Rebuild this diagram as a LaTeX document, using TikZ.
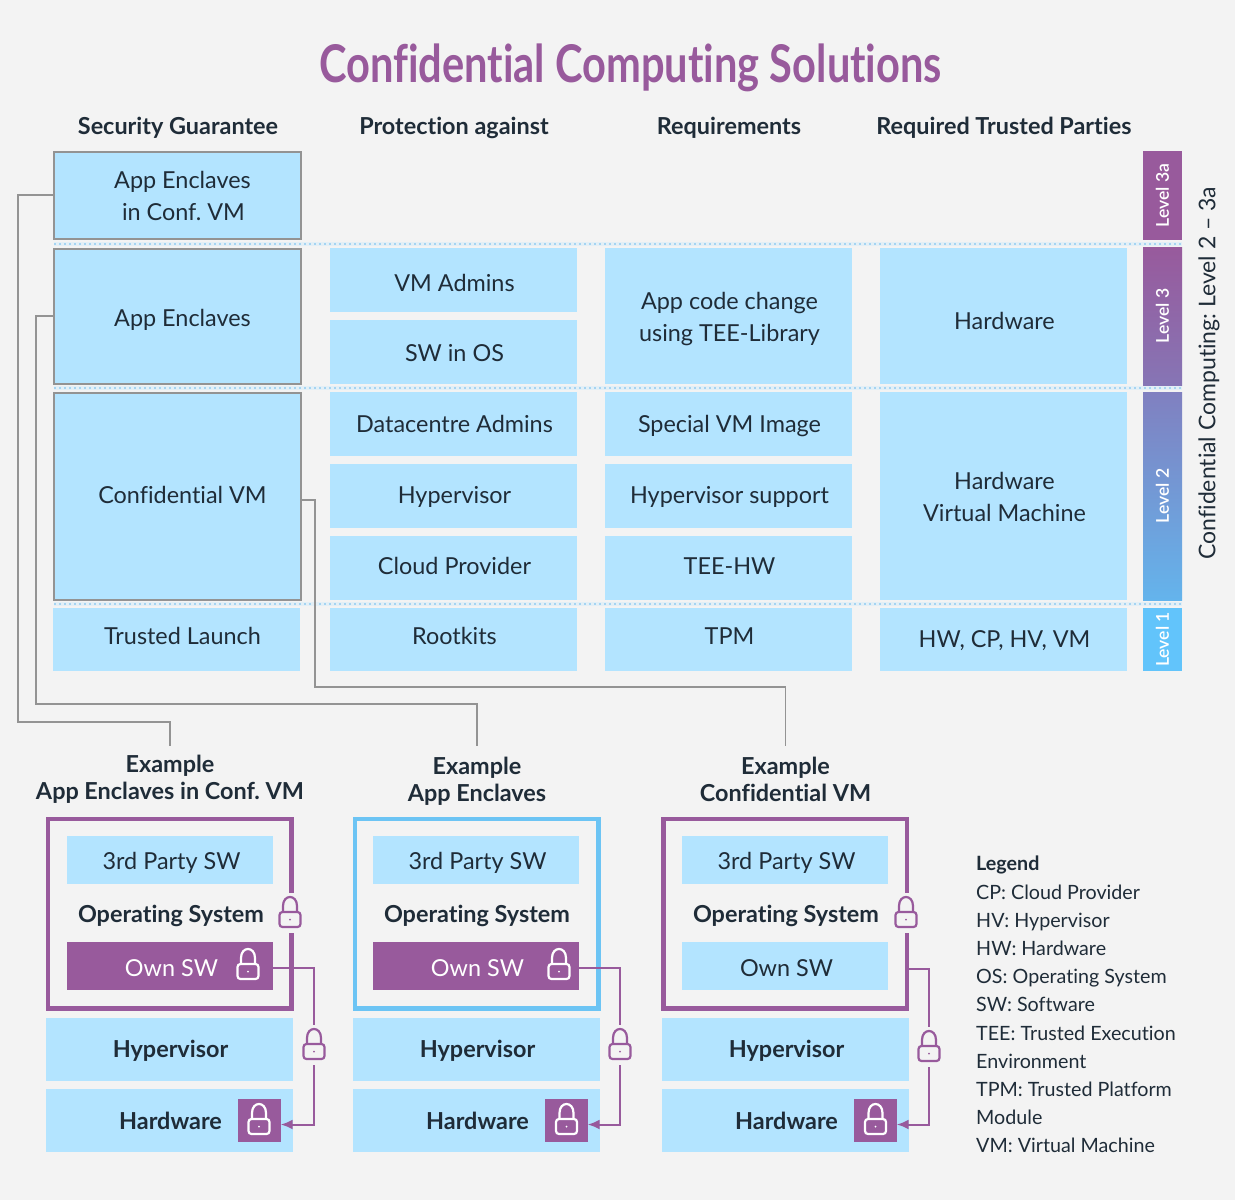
\documentclass[tikz,border=0pt]{standalone}
\usepackage{fontspec}
\setmainfont{Lato}[Ligatures=NoCommon]
\newfontfamily\latosemi{Lato Semibold}
\frenchspacing
\usetikzlibrary{calc,arrows.meta,positioning}
\definecolor{pagebg}{HTML}{F3F3F3}
\definecolor{boxblue}{HTML}{B3E4FF}
\definecolor{ccpurple}{HTML}{985A9C}
\definecolor{ccblue}{HTML}{62C4FB}
\definecolor{lvlthreebot}{HTML}{8675B5}
\definecolor{lvltwotop}{HTML}{8080C0}
\definecolor{lvltwobot}{HTML}{64B4EC}
\definecolor{frameblue}{HTML}{6CC4F4}
\definecolor{linegray}{HTML}{939393}
\definecolor{inkdark}{HTML}{1F2C38}
\definecolor{dotblue}{HTML}{A5D4F2}
\tikzset{
  drop/.style={text depth=5pt,text height={\fpeval{5+2*(#1)}pt}},
  nudge/.style={execute at begin node={\hspace*{#1}}},
  bodytext/.style={font=\fontsize{23.4}{32}\selectfont,text=inkdark,align=center,inner sep=0pt},
  boldtext/.style={font=\fontsize{23.4}{27}\selectfont\bfseries,text=inkdark,align=center,inner sep=0pt},
  cell/.style={bodytext,nudge=2pt,fill=boxblue,minimum width=247pt,minimum height=#1},
  cell/.default=64pt,
  guarantee/.style={cell=#1,nudge=8pt,draw=linegray,line width=2pt},
  stackbox/.style={boldtext,nudge=2pt,drop=8.7,fill=boxblue,minimum width=247pt,minimum height=63pt},
  swbox/.style={bodytext,nudge=3pt,drop=10,fill=boxblue,minimum width=206pt,minimum height=48pt},
  ownbox/.style={swbox,fill=ccpurple,text=white},
  tcbframe/.style={draw=#1,line width=4.5pt,minimum width=243.5pt,minimum height=189.5pt,inner sep=0pt},
  keybox/.style={fill=ccpurple,minimum width=43pt,minimum height=43pt,inner sep=0pt},
  levelbar/.style={font=\fontsize{17.6}{20}\latosemi\selectfont,text=white,rotate=90,inner sep=0pt,minimum height=39pt},
  grayline/.style={linegray,line width=1.7pt},
  attestline/.style={ccpurple,line width=2pt,-{Latex[length=12pt,width=10pt]}},
  leveldots/.style={dotblue,line width=2pt,dash pattern=on 2pt off 3pt},
  pics/padlock/.style 2 args={code={
    \draw[#1,line width=2.2pt,line join=round] (-7,0) -- (-7,-7) .. controls (-7,-19) and (7,-19) .. (7,-7) -- (7,0);
    \draw[#1,fill=#2,line width=2.2pt,rounded corners=3pt] (-10.5,-1) rectangle (10.5,14);
    \fill[#1] (0,6.5) circle (1pt);
  }},
  pics/lockgap/.style={code={\fill[pagebg] (-13,-20) rectangle (13,20);}}
}
\begin{document}
\begin{tikzpicture}[x=1pt,y=-1pt]
\useasboundingbox[fill=pagebg] (0,0) rectangle (1235,1200);
\node[inner sep=0pt,text=ccpurple,font=\fontsize{52}{54}\selectfont\bfseries] (title) at (630.5,68){\scalebox{.8}[1]{Confidential Computing Solutions}};
\node[boldtext] (headA) at (178,128){Security Guarantee};
\node[boldtext] (headB) at (454,128){Protection against};
\node[boldtext] (headC) at (729,128){Requirements};
\node[boldtext] (headD) at (1004,128){Required Trusted Parties};

% level separators
\foreach \yy in {244,388,604}{
  \fill[boxblue!25!pagebg] (54,\yy-2) rectangle (1182,\yy+2);
  \draw[leveldots] (54,\yy) -- (1182,\yy);
}

\node[guarantee=87pt,drop=25.5] (encconf) at (177.5,195){App Enclaves\\\hspace*{2pt}in Conf. VM};
\node[guarantee=135pt,drop=10.5] (enc) at (177.5,316){App Enclaves};
\node[guarantee=207pt,drop=7.5] (confvm) at (177.5,496){Confidential VM};
\node[cell=63pt,nudge=10pt,drop=5] (launch) at (176.5,639.5){Trusted Launch};

\node[cell,drop=11.5] (vmadmins) at (453.5,280){VM Admins};
\node[cell,drop=9.5] (swos) at (453.5,352){SW in OS};
\node[cell,drop=8.5] (dcadmins) at (453.5,424){Datacentre Admins};
\node[cell,drop=7.5] (hyper) at (453.5,496){Hypervisor};
\node[cell,drop=6.5] (cloud) at (453.5,568){Cloud Provider};
\node[cell=63pt,drop=5] (rootkits) at (453.5,639.5){Rootkits};

\node[cell=136pt,drop=25.5] (appcode) at (728.5,316){App code change\\using TEE-Library};
\node[cell,drop=8.5] (vmimage) at (728.5,424){Special VM Image};
\node[cell,drop=7.5] (hvsupport) at (728.5,496){Hypervisor support};
\node[cell,drop=6.5] (teehw) at (728.5,568){TEE-HW};
\node[cell=63pt,drop=5] (tpm) at (728.5,639.5){TPM};

\node[cell=136pt,drop=13.5] (trusthw) at (1003.5,316){Hardware};
\node[cell=208pt,drop=25.5] (trustvm) at (1003.5,496){Hardware\\Virtual Machine};
\node[cell=63pt,drop=8] (trustall) at (1003.5,639.5){HW, CP, HV, VM};

\node[levelbar,minimum width=89pt,fill=ccpurple] (lvlthreea) at (1162.5,195.5){Level 3a};
\node[levelbar,minimum width=138pt,top color=ccpurple,bottom color=lvlthreebot] (lvlthree) at (1162.5,316){Level 3};
\node[levelbar,minimum width=208pt,top color=lvltwotop,bottom color=lvltwobot] (lvltwo) at (1162.5,496){Level 2};
\node[levelbar,minimum width=63pt,fill=ccblue] (lvlone) at (1162.5,639.5){Level 1};
\node[bodytext,rotate=90,font=\fontsize{23}{28}\selectfont] (ccrange) at (1209,373){Confidential Computing: Level 2 -- 3a};

\node[boldtext,anchor=north] (exa) at (170,755){Example\\App Enclaves in Conf. VM};
\node[boldtext,anchor=north] (exb) at (477,757){Example\\App Enclaves};
\node[boldtext,anchor=north] (exc) at (785.5,757){Example\\Confidential VM};

\coordinate (bendA) at (18,722);
\coordinate (bendB) at (36,704);
\coordinate (bendC) at (315,687);
\draw[grayline] (encconf.west) -| (bendA) -| ([yshift=9pt]exa.north);
\draw[grayline] (enc.west) -| (bendB) -| ([yshift=11pt]exb.north);
\draw[grayline] ([yshift=-4pt]confvm.east) -| (bendC) -| ([yshift=11pt]exc.north);

% first stack
\node[tcbframe=ccpurple] (frameA) at (169.5,913.5){};
\node[swbox] (thirdA) at (170,859.5){3rd Party SW};
\node[boldtext] (osA) at (171,916){Operating System};
\node[ownbox] (ownA) at (170,966){Own SW};
\node[stackbox] (hvA) at (169.5,1049){Hypervisor};
\node[stackbox] (hwA) at (169.5,1120.5){Hardware};
\node[keybox] (keyA) at (259,1120.5){};
\coordinate (railA) at (314,1045);
\draw[attestline] ([yshift=-2pt]ownA.east) -| (railA) |- ([yshift=-4pt]keyA.east);
\pic at (290,913) {lockgap};
\pic at (290,913) {padlock={ccpurple}{pagebg}};
\pic at (314,1045) {lockgap};
\pic at (314,1045) {padlock={ccpurple}{pagebg}};
\pic at (248,965) {padlock={white}{ccpurple}};
\pic at (259,1120) {padlock={white}{ccpurple}};

% second stack
\node[tcbframe=frameblue] (frameB) at (476.5,913.5){};
\node[swbox] (thirdB) at (476,859.5){3rd Party SW};
\node[boldtext] (osB) at (477,916){Operating System};
\node[ownbox] (ownB) at (476,966){Own SW};
\node[stackbox] (hvB) at (476.5,1049){Hypervisor};
\node[stackbox] (hwB) at (476.5,1120.5){Hardware};
\node[keybox] (keyB) at (566,1120.5){};
\coordinate (railB) at (620,1045);
\draw[attestline] ([yshift=-2pt]ownB.east) -| (railB) |- ([yshift=-4pt]keyB.east);
\pic at (620,1045) {lockgap};
\pic at (620,1045) {padlock={ccpurple}{pagebg}};
\pic at (559,965) {padlock={white}{ccpurple}};
\pic at (566.5,1120) {padlock={white}{ccpurple}};

% third stack
\node[tcbframe=ccpurple] (frameC) at (785,913.5){};
\node[swbox] (thirdC) at (785,859.5){3rd Party SW};
\node[boldtext] (osC) at (786,916){Operating System};
\node[swbox] (ownC) at (785,966){Own SW};
\node[stackbox] (hvC) at (785.5,1049){Hypervisor};
\node[stackbox] (hwC) at (785.5,1120.5){Hardware};
\node[keybox] (keyC) at (875,1120.5){};
\coordinate (railC) at (929,1047);
\draw[attestline] ([yshift=-55pt]frameC.east) -| (railC) |- ([yshift=-4pt]keyC.east);
\pic at (906,913) {lockgap};
\pic at (906,913) {padlock={ccpurple}{pagebg}};
\pic at (929,1047) {lockgap};
\pic at (929,1047) {padlock={ccpurple}{pagebg}};
\pic at (875.5,1120) {padlock={white}{ccpurple}};

\node[anchor=north west,inner sep=0pt,text=inkdark,align=left,font=\fontsize{19.7}{28.2}\selectfont] (legend) at (976,856){\textbf{Legend}\\CP: Cloud Provider\\HV: Hypervisor\\HW: Hardware\\OS: Operating System\\SW: Software\\TEE: Trusted Execution\\Environment\\TPM: Trusted Platform\\Module\\VM: Virtual Machine};
\end{tikzpicture}
\end{document}
